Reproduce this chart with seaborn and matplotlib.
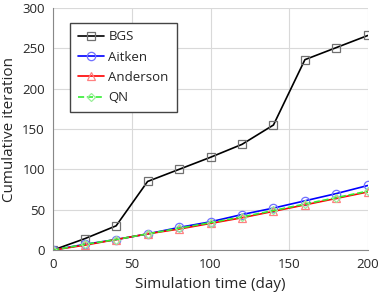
import numpy as np
import pandas as pd
import matplotlib
matplotlib.use('Agg')
import matplotlib.pyplot as plt
import seaborn as sns

days = [0, 20, 40, 60, 80, 100, 120, 140, 160, 180, 200]
bgs = [0, 14, 30, 85, 100, 115, 131, 155, 236, 251, 266]
aitken = [0, 7, 13, 20, 28, 35, 44, 52, 61, 70, 80]
anderson = [0, 6, 13, 20, 26, 33, 40, 48, 56, 64, 72]
qn = [0, 7, 13, 20, 27, 34, 41, 49, 57, 65, 73]

series = [
    ('BGS', bgs, 'black', '#707070', 's', '-'),
    ('Aitken', aitken, 'blue', '#7070ff', 'o', '-'),
    ('Anderson', anderson, 'red', '#ff8080', '^', '-'),
    ('QN', qn, '#33ee33', '#99ee99', 'D', '--'),
]

sns.set_style('white')
plt.rcParams['font.family'] = ['Open Sans', 'DejaVu Sans']

fig = plt.figure(figsize=(3.8, 2.98), dpi=100)
ax = fig.add_axes([0.14, 0.161, 0.828, 0.812])

for name, vals, col, mcol, mk, ls in series:
    df = pd.DataFrame({'day': days, 'it': vals})
    sns.lineplot(data=df, x='day', y='it', ax=ax, color=col, linestyle=ls,
                 linewidth=1.2, marker=mk, markersize=6 if mk != 'D' else 4.5,
                 markerfacecolor='none', markeredgecolor=mcol,
                 markeredgewidth=0.9, label=name)

ax.set_xlim(0, 200)
ax.set_ylim(0, 300)
ax.set_xticks([0, 50, 100, 150, 200])
ax.set_yticks([0, 50, 100, 150, 200, 250, 300])
ax.grid(True, color='#d9d9d9', linewidth=0.8)
ax.set_axisbelow(True)
for s in ['top', 'right']:
    ax.spines[s].set_visible(False)
for s in ['left', 'bottom']:
    ax.spines[s].set_color('#888888')
ax.tick_params(labelsize=9.5, length=0, pad=6)
ax.set_xlabel('Simulation time (day)', fontsize=11)
ax.set_ylabel('Cumulative iteration', fontsize=11)

leg = ax.legend(loc='upper left', bbox_to_anchor=(0.054, 0.94), fontsize=9.5,
                fancybox=False, framealpha=1, edgecolor='#444444',
                handlelength=2.0, handletextpad=0.3, labelspacing=0.55,
                borderpad=0.6, borderaxespad=0)
leg.get_frame().set_linewidth(1.0)

fig.savefig('out.png', dpi=100)
